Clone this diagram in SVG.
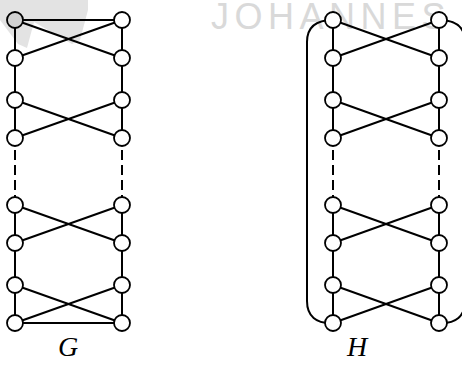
<svg xmlns="http://www.w3.org/2000/svg" width="462" height="365" viewBox="0 0 462 365">
  <defs>
    <style>
      .edge { stroke: #000; stroke-width: 2; fill: none; stroke-linecap: butt; }
      .dash { stroke-dasharray: 10 5; }
      .node { fill: #fff; stroke: #000; stroke-width: 1.8; }
      .label { font-family: "Liberation Serif", "DejaVu Serif", serif; font-style: italic; font-size: 28px; fill: #000; text-anchor: middle; }
      .mark { fill: #dcdcdc; }
      .marktext { font-family: "Liberation Sans", Arial, sans-serif; font-size: 36px; fill: #d9d9d9; letter-spacing: 5.5px; }
    </style>
  </defs>
  <rect width="462" height="365" fill="#fff"/>

  <!-- background watermark -->
  <g id="watermark">
    <path class="mark" d="M0,0 L88,0 L88,10 L80,40 L72,44 L34,22 L27,48 L18,44 L0,20 Z" opacity="0.8"/>
    <text class="marktext" x="211" y="29">JOHANNES</text>
  </g>

  <g id="connectors">
    <!-- graph G -->
    <line class="edge" x1="15" y1="20" x2="122" y2="20"/>
    <line class="edge" x1="15" y1="323" x2="122" y2="323"/>
    <line class="edge" x1="15" y1="20" x2="15" y2="138"/>
    <line class="edge" x1="122" y1="20" x2="122" y2="138"/>
    <line class="edge dash" x1="15" y1="150" x2="15" y2="198"/>
    <line class="edge dash" x1="122" y1="150" x2="122" y2="198"/>
    <line class="edge" x1="15" y1="205" x2="15" y2="323"/>
    <line class="edge" x1="122" y1="205" x2="122" y2="323"/>
    <line class="edge" x1="15" y1="20" x2="122" y2="58"/>
    <line class="edge" x1="122" y1="20" x2="15" y2="58"/>
    <line class="edge" x1="15" y1="100" x2="122" y2="138"/>
    <line class="edge" x1="122" y1="100" x2="15" y2="138"/>
    <line class="edge" x1="15" y1="205" x2="122" y2="243"/>
    <line class="edge" x1="122" y1="205" x2="15" y2="243"/>
    <line class="edge" x1="15" y1="285" x2="122" y2="323"/>
    <line class="edge" x1="122" y1="285" x2="15" y2="323"/>

    <!-- graph H -->
    <line class="edge" x1="333" y1="20" x2="333" y2="138"/>
    <line class="edge" x1="439" y1="20" x2="439" y2="138"/>
    <line class="edge dash" x1="333" y1="150" x2="333" y2="198"/>
    <line class="edge dash" x1="439" y1="150" x2="439" y2="198"/>
    <line class="edge" x1="333" y1="205" x2="333" y2="323"/>
    <line class="edge" x1="439" y1="205" x2="439" y2="323"/>
    <line class="edge" x1="333" y1="20" x2="439" y2="58"/>
    <line class="edge" x1="439" y1="20" x2="333" y2="58"/>
    <line class="edge" x1="333" y1="100" x2="439" y2="138"/>
    <line class="edge" x1="439" y1="100" x2="333" y2="138"/>
    <line class="edge" x1="333" y1="205" x2="439" y2="243"/>
    <line class="edge" x1="439" y1="205" x2="333" y2="243"/>
    <line class="edge" x1="333" y1="285" x2="439" y2="323"/>
    <line class="edge" x1="439" y1="285" x2="333" y2="323"/>
    <path class="edge" d="M333,20 C316,20 307,27 307,42 L307,301 C307,316 316,324 333,323"/>
    <path class="edge" d="M439,20 C456,20 465,27 465,42 L465,301 C465,316 456,324 439,323"/>
  </g>

  <!-- nodes of G -->
  <g id="G-nodes">
    <circle id="g-l1" class="node" cx="15" cy="20" r="8" style="fill:#d2d2d2"/>
    <circle id="g-l2" class="node" cx="15" cy="58" r="8"/>
    <circle id="g-l3" class="node" cx="15" cy="100" r="8"/>
    <circle id="g-l4" class="node" cx="15" cy="138" r="8"/>
    <circle id="g-l5" class="node" cx="15" cy="205" r="8"/>
    <circle id="g-l6" class="node" cx="15" cy="243" r="8"/>
    <circle id="g-l7" class="node" cx="15" cy="285" r="8"/>
    <circle id="g-l8" class="node" cx="15" cy="323" r="8"/>
    <circle id="g-r1" class="node" cx="122" cy="20" r="8"/>
    <circle id="g-r2" class="node" cx="122" cy="58" r="8"/>
    <circle id="g-r3" class="node" cx="122" cy="100" r="8"/>
    <circle id="g-r4" class="node" cx="122" cy="138" r="8"/>
    <circle id="g-r5" class="node" cx="122" cy="205" r="8"/>
    <circle id="g-r6" class="node" cx="122" cy="243" r="8"/>
    <circle id="g-r7" class="node" cx="122" cy="285" r="8"/>
    <circle id="g-r8" class="node" cx="122" cy="323" r="8"/>
  </g>

  <!-- nodes of H -->
  <g id="H-nodes">
    <circle id="h-l1" class="node" cx="333" cy="20" r="8"/>
    <circle id="h-l2" class="node" cx="333" cy="58" r="8"/>
    <circle id="h-l3" class="node" cx="333" cy="100" r="8"/>
    <circle id="h-l4" class="node" cx="333" cy="138" r="8"/>
    <circle id="h-l5" class="node" cx="333" cy="205" r="8"/>
    <circle id="h-l6" class="node" cx="333" cy="243" r="8"/>
    <circle id="h-l7" class="node" cx="333" cy="285" r="8"/>
    <circle id="h-l8" class="node" cx="333" cy="323" r="8"/>
    <circle id="h-r1" class="node" cx="439" cy="20" r="8"/>
    <circle id="h-r2" class="node" cx="439" cy="58" r="8"/>
    <circle id="h-r3" class="node" cx="439" cy="100" r="8"/>
    <circle id="h-r4" class="node" cx="439" cy="138" r="8"/>
    <circle id="h-r5" class="node" cx="439" cy="205" r="8"/>
    <circle id="h-r6" class="node" cx="439" cy="243" r="8"/>
    <circle id="h-r7" class="node" cx="439" cy="285" r="8"/>
    <circle id="h-r8" class="node" cx="439" cy="323" r="8"/>
  </g>

  <g id="labels">
    <text class="label" x="68" y="356">G</text>
    <text class="label" x="357" y="356">H</text>
  </g>
</svg>
